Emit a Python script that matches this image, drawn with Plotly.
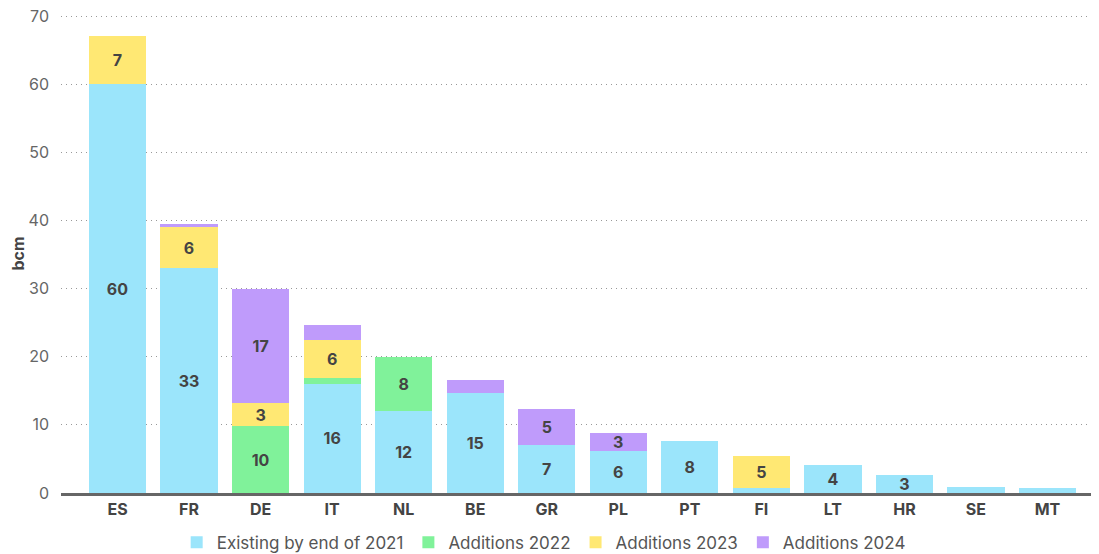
import plotly.graph_objects as go

countries = ["ES", "FR", "DE", "IT", "NL", "BE", "GR", "PL", "PT", "FI", "LT", "HR", "SE", "MT"]
existing_2021 = [60.0, 33.0, 0.0, 16.0, 12.0, 14.7, 7.0, 6.2, 7.6, 0.7, 4.1, 2.6, 0.9, 0.7]
additions_2022 = [0, 0, 9.8, 0.9, 8.0, 0, 0, 0, 0, 0, 0, 0, 0, 0]
additions_2023 = [7.0, 6.0, 3.4, 5.6, 0, 0, 0, 0, 0, 4.7, 0, 0, 0, 0]
additions_2024 = [0, 0.5, 16.7, 2.2, 0, 1.9, 5.4, 2.6, 0, 0, 0, 0, 0, 0]

series_names = ["Existing by end of 2021", "Additions 2022", "Additions 2023", "Additions 2024"]
series_values = [existing_2021, additions_2022, additions_2023, additions_2024]
colors = ["#9BE5FB", "#80F29A", "#FFE873", "#BF9BFB"]

FONT = "Inter, Roboto, sans-serif"

fig = go.Figure()
for name, vals, col in zip(series_names, series_values, colors):
    labels = [f"<b>{round(v)}</b>" if v >= 2.5 else "" for v in vals]
    fig.add_trace(go.Bar(
        x=countries, y=vals, name=name,
        marker=dict(color=col, line=dict(width=0)),
        text=labels, textposition="inside", insidetextanchor="middle",
        textangle=0, constraintext="none",
        textfont=dict(family=FONT, size=16, color="#444444"),
        hoverinfo="x+y+name",
    ))

# page body has an 8px default margin, so the figure is sized/offset to compensate
fig.update_layout(
    barmode="stack",
    bargap=0.2,
    width=1091, height=546,
    margin=dict(l=53, r=0, t=6, b=61, autoexpand=False),
    plot_bgcolor="white", paper_bgcolor="white",
    font=dict(family=FONT, size=16, color="#666666"),
    showlegend=True,
    legend=dict(orientation="h", x=0.465, xanchor="center", y=-0.066, yanchor="top",
                font=dict(family=FONT, size=17, color="#555555"),
                itemwidth=30, traceorder="normal", itemclick=False),
    xaxis=dict(
        range=[-0.79, 13.72], automargin=False,
        tickfont=dict(family=FONT, size=16, color="#444444"),
        showline=True, linecolor="#666666", linewidth=2.5,
        showgrid=False, ticks="",
        tickprefix="<b>", ticksuffix="</b>",
    ),
    yaxis=dict(
        range=[0, 70.3], dtick=10, automargin=False, ticklabeloverflow="allow",
        tickfont=dict(family=FONT, size=16, color="#666666"),
        showgrid=True, gridcolor="#999999", griddash="1px,4px", gridwidth=1,
        zeroline=False, ticks="", ticklabelstandoff=11,
        title=dict(text="<b>bcm</b>", font=dict(family=FONT, size=16, color="#444444"), standoff=6),
    ),
)

fig.write_html("out.html")
